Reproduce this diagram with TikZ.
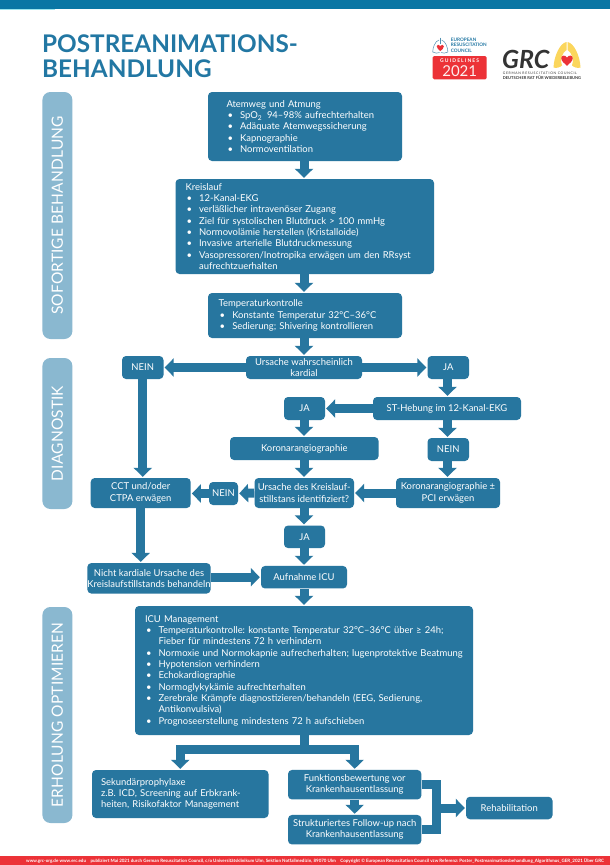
\documentclass[tikz,border=0pt]{standalone}
\usepackage{fontspec}
\usetikzlibrary{arrows.meta,calc}
\setmainfont{Lato}
\newfontfamily\sidefont[LetterSpace=1]{Lato}
\newfontfamily\lsfont[LetterSpace=20]{Lato}
\newfontfamily\gfont[LetterSpace=22]{Lato}
\frenchspacing
\definecolor{boxc}{HTML}{27769F}
\definecolor{barc}{HTML}{8AB8D0}
\definecolor{topc}{HTML}{0A76A4}
\definecolor{titlec}{HTML}{2277A3}
\definecolor{redc}{HTML}{EC3237}
\definecolor{yelc}{HTML}{FBD65C}
\definecolor{grcc}{HTML}{333333}
\newcommand\bl{\makebox[13.6pt][l]{\hspace{1pt}•}}
\newcommand\ct{\hspace*{13.6pt}}
\newcommand\heartat[3]{\begin{scope}[shift={(#1,#2)},scale=#3]\fill[redc] (0,3.6) .. controls (-1.5,2.2) and (-3.6,0.8) .. (-3.6,-1.2) .. controls (-3.6,-3) and (-1,-3.4) .. (0,-1.5) .. controls (1,-3.4) and (3.6,-3) .. (3.6,-1.2) .. controls (3.6,0.8) and (1.5,2.2) .. (0,3.6) -- cycle;\end{scope}}
\tikzset{
  x=1pt,y=-1pt,
  bx/.style={fill=boxc,rounded corners=4pt,text=white,inner sep=0pt,align=center,font=\fontsize{9.45}{11.33}\selectfont},
  lbx/.style={bx,align=left},
  sidebar/.style={fill=barc,rounded corners=8pt,text=white,rotate=90,minimum height=30pt,inner sep=0pt,font=\sidefont\fontsize{15.5}{16}\selectfont},
  blk/.style={draw=boxc,line width=9pt,line join=miter,-{Triangle[length=9pt,width=18pt]},shorten >=1pt},
  plainblk/.style={draw=boxc,line width=9pt,line join=miter},
  titletext/.style={text=titlec,inner sep=0pt,font=\bfseries\fontsize{24.3}{25}\selectfont,anchor=base west},
  logotext/.style={inner sep=0pt,anchor=base west,font=\bfseries\fontsize{4.7}{5}\selectfont}
}
\begin{document}
\begin{tikzpicture}
\useasboundingbox (0,0) rectangle (610,865);
\fill[white] (0,0) rectangle (610,865);
% bands
\fill[topc] (0,0) rectangle (610,8.5);
\fill[topc!50!cyan!40] (0,8.5) rectangle (55,9.5);
\fill[redc] (0,856) rectangle (610,865);
\node[inner sep=0pt,text=white,font=\bfseries\fontsize{4.5}{5}\selectfont] (foot) at (315,861) {www.grc-org.de www.erc.edu\quad publiziert Mai 2021 durch German Resuscitation Council, c/o Universitätsklinikum Ulm, Sektion Notfallmedizin, 89070 Ulm\quad Copyright © European Resuscitation Council vzw Referenz: Poster\_Postreanimationsbehandlung\_Algorithmus\_GER\_2021 Über GRC};
% title
\node[titletext] (t1) at (42,52) {POSTREANIMATIONS-};
\node[titletext] (t2) at (42,77) {BEHANDLUNG};
% ERC logo
\draw[boxc!80,line width=.5pt] (440.3,37.5) -- (440.3,44);
\draw[boxc!80,line width=.5pt] (439,40) .. controls (435,41) and (432.7,48) .. (432.7,52) .. controls (435,53.5) and (438,53.3) .. (439.6,52.5);
\draw[boxc!80,line width=.5pt] (441.6,40) .. controls (445.6,41) and (447.9,48) .. (447.9,52) .. controls (445.6,53.5) and (442.6,53.3) .. (441,52.5);
\heartat{440.3}{47.5}{1}
\node[logotext,text=titlec] (e1) at (450.7,41.5) {EUROPEAN};
\node[logotext,text=titlec] (e2) at (450.7,46.8) {RESUSCITATION};
\node[logotext,text=titlec] (e3) at (450.7,52.2) {COUNCIL};
\fill[redc,rounded corners=1.5pt] (432.7,56) rectangle (486.7,79.3);
\node[inner sep=0pt,text=white,font=\gfont\bfseries\fontsize{5}{5}\selectfont] (e4) at (459.7,61) {GUIDELINES};
\node[inner sep=0pt,text=white!92!redc,font=\fontsize{15}{15}\selectfont] (e5) at (459.7,71) {2021};
% GRC logo
\fill[yelc] (566.5,42) .. controls (560,43) and (554,56) .. (553.5,67.5) .. controls (556,68.5) and (560,67.5) .. (562,65.5) .. controls (559.5,60) and (562,53) .. (566.5,50) -- cycle;
\fill[yelc] (567.5,42) .. controls (574,43) and (580,56) .. (580.5,67.5) .. controls (578,68.5) and (574,67.5) .. (572,65.5) .. controls (574.5,60) and (572,53) .. (567.5,50) -- cycle;
\heartat{567}{60}{1.6}
\node[inner sep=0pt,anchor=base west,text=grcc,font=\bfseries\itshape\fontsize{25}{25}\selectfont] (g1) at (502,68) {GRC};
\node[inner sep=0pt,anchor=base west,text=grcc,font=\lsfont\fontsize{3.4}{4}\selectfont] (g2) at (502.7,74.8) {GERMAN RESUSCITATION COUNCIL};
\node[inner sep=0pt,anchor=base west,text=grcc,font=\bfseries\fontsize{4}{4}\selectfont] (g3) at (502.7,79.8) {DEUTSCHER RAT FÜR WIEDERBELEBUNG};
% side bars
\node[sidebar,minimum width=247pt] (s1) at (57.4,215.5) {SOFORTIGE BEHANDLUNG};
\node[sidebar,minimum width=151pt] (s2) at (57.4,433.5) {DIAGNOSTIK};
\node[sidebar,minimum width=216pt] (s3) at (57.4,715) {ERHOLUNG OPTIMIEREN};
% boxes
\node[lbx,inner xsep=18.5pt,text width=157pt,minimum height=69pt] (a) at (305,126.5) {Atemweg und Atmung\\\bl SpO\textsubscript{2}\, 94--98\% aufrechterhalten\\\bl Adäquate Atemwegssicherung\\\bl Kapnographie\\\bl Normoventilation};
\node[lbx,inner xsep=10pt,text width=238.5pt,minimum height=95pt] (b) at (304.75,226.5) {Kreislauf\\\bl 12-Kanal-EKG\\\bl verläßlicher intravenöser Zugang\\\bl Ziel für systolischen Blutdruck > 100 mmHg\\\bl Normovolämie herstellen (Kristalloide)\\\bl Invasive arterielle Blutdruckmessung\\\bl Vasopressoren/Inotropika erwägen um den RRsyst\\\ct aufrechtzuerhalten};
\node[lbx,inner xsep=10.7pt,text width=172.6pt,minimum height=45pt] (c) at (305,315.5) {Temperaturkontrolle\\\bl Konstante Temperatur 32°C–36°C\\\bl Sedierung; Shivering kontrollieren};
\node[bx,minimum width=116pt,minimum height=23pt] (d) at (304,367.5) {Ursache wahrscheinlich\\kardial};
\node[bx,minimum width=41.5pt,minimum height=23pt] (n1) at (142.75,367.5) {NEIN};
\node[bx,minimum width=41.5pt,minimum height=23pt] (j1) at (448.25,367.5) {JA};
\node[bx,minimum width=41pt,minimum height=23pt] (j2) at (304.5,408.5) {JA};
\node[bx,minimum width=148pt,minimum height=23pt] (st) at (447,408.5) {ST-Hebung im 12-Kanal-EKG};
\node[bx,minimum width=148.6pt,minimum height=23pt] (k) at (304.3,448.5) {Koronarangiographie};
\node[bx,minimum width=41.5pt,minimum height=23pt] (n2) at (448.25,449.5) {NEIN};
\node[bx,minimum width=99.5pt,minimum height=30pt] (u) at (304.25,493) {Ursache des Kreislauf-\\stillstans identifiziert?};
\node[bx,minimum width=29pt,minimum height=23pt] (n3) at (223.5,493.5) {NEIN};
\node[bx,minimum width=100pt,minimum height=30pt] (cct) at (140.7,493) {CCT und/oder\\CTPA erwägen};
\node[bx,minimum width=104pt,minimum height=30pt] (kp) at (448,493) {Koronarangiographie ±\\PCI erwägen};
\node[bx,minimum width=41pt,minimum height=22.5pt] (j3) at (304.5,536.8) {JA};
\node[bx,minimum width=120pt,minimum height=30.5pt] (nk) at (149,578.3) {Nicht kardiale Ursache des\\Kreislaufstillstands behandeln};
\node[bx,minimum width=86pt,minimum height=22.5pt] (au) at (304,577.2) {Aufnahme ICU};
\node[lbx,inner xsep=10pt,text width=318pt,minimum height=129pt] (icu) at (304,670.5) {ICU Management\\\bl Temperaturkontrolle: konstante Temperatur 32°C–36°C über ≥ 24h;\\\ct Fieber für mindestens 72 h verhindern\\\bl Normoxie und Normokapnie aufrecherhalten; lugenprotektive Beatmung\\\bl Hypotension verhindern\\\bl Echokardiographie\\\bl Normoglykykämie aufrechterhalten\\\bl Zerebrale Krämpfe diagnostizieren/behandeln (EEG, Sedierung,\\\ct Antikonvulsiva)\\\bl Prognoseerstellung mindestens 72 h aufschieben};
\node[lbx,inner xsep=9pt,text width=158.5pt,minimum height=48pt] (sek) at (180.25,794) {Sekundärprophylaxe\\z.B. ICD, Screening auf Erbkrank-\\heiten, Risikofaktor Management};
\node[bx,minimum width=133.4pt,minimum height=29.5pt] (f) at (354.7,784.7) {Funktionsbewertung vor\\Krankenhausentlassung};
\node[bx,minimum width=133.4pt,minimum height=29.5pt] (sf) at (354.7,829.7) {Strukturiertes Follow-up nach\\Krankenhausentlassung};
\node[bx,minimum width=86.5pt,minimum height=22.5pt] (r) at (509.25,808) {Rehabilitation};
% guide coordinates
\coordinate (xc) at (304,0);
\coordinate (xr) at (447.5,0);
\coordinate (fork) at (304,749.7);
\coordinate (jx) at (436.8,0);
\coordinate (jj) at (r.west -| jx);
% connectors
\draw[blk] (a.south -| xc) -- (b.north -| xc);
\draw[blk] (b.south -| xc) -- (c.north -| xc);
\draw[blk] (c.south -| xc) -- (d.north -| xc);
\draw[blk] (d.west) -- (n1.east);
\draw[blk] (d.east) -- (j1.west);
\draw[blk] (j1.south -| xr) -- (st.north -| xr);
\draw[blk] (st.west) -- (j2.east);
\draw[blk] (j2.south -| xc) -- (k.north -| xc);
\draw[blk] (st.south -| xr) -- (n2.north -| xr);
\draw[blk] (n2.south -| xr) -- (kp.north -| xr);
\draw[blk] (k.south -| xc) -- (u.north -| xc);
\draw[blk] (kp.west) -- (u.east);
\draw[blk] (u.west) -- (n3.east);
\draw[blk] (n3.west) -- (cct.east |- n3.west);
\draw[blk] (n1.south) -- (cct.north -| n1.south);
\draw[blk] (cct.south) -- (nk.north -| cct.south);
\draw[blk] (u.south -| xc) -- (j3.north -| xc);
\draw[blk] (j3.south -| xc) -- (au.north -| xc);
\draw[blk] (nk.east |- au.west) -- (au.west);
\draw[blk] (au.south -| xc) -- (icu.north -| xc);
\draw[plainblk] (icu.south -| xc) -- (fork);
\draw[blk] (fork) -| (sek.north);
\draw[blk] (fork) -| (f.north);
\draw[blk] (f.south) -- (sf.north);
\draw[plainblk] (f.east) -| (jj);
\draw[plainblk] (sf.east) -| (jj);
\draw[blk] (jj) -- (r.west);
\end{tikzpicture}
\end{document}
